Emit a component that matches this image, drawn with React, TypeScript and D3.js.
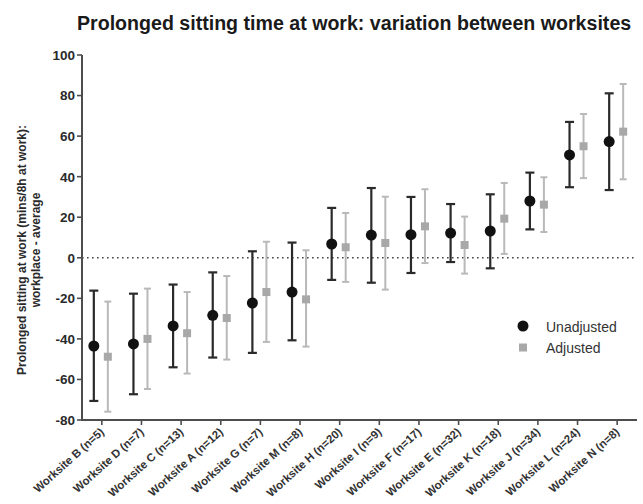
import * as d3 from 'd3';

// worksites, sorted as in the figure
const sites = [
  "Worksite B (n=5)", "Worksite D (n=7)", "Worksite C (n=13)", "Worksite A (n=12)",
  "Worksite G (n=7)", "Worksite M (n=8)", "Worksite H (n=20)", "Worksite I (n=9)",
  "Worksite F (n=17)", "Worksite E (n=32)", "Worksite K (n=18)", "Worksite J (n=34)",
  "Worksite L (n=24)", "Worksite N (n=8)",
];

const unadjMean = [-43.5, -42.5, -33.6, -28.4, -22.3, -16.9, 6.8, 11.2, 11.4, 12.2, 13.2, 28.0, 50.7, 57.3];
const unadjLow = [-70.6, -67.3, -54.0, -49.2, -46.9, -40.7, -10.9, -12.3, -7.5, -2.1, -5.2, 14.0, 34.8, 33.4];
const unadjHigh = [-16.2, -17.7, -13.2, -7.2, 3.2, 7.5, 24.6, 34.4, 30.0, 26.5, 31.3, 42.0, 67.0, 81.1];

const adjMean = [-48.8, -40.0, -37.2, -29.7, -16.9, -20.5, 5.2, 7.3, 15.5, 6.3, 19.3, 26.2, 55.0, 62.2];
const adjLow = [-75.9, -64.7, -57.1, -50.2, -41.5, -43.8, -11.9, -15.7, -2.6, -7.8, 1.9, 12.7, 39.3, 38.7];
const adjHigh = [-21.6, -15.2, -16.9, -9.0, 7.9, 3.7, 22.1, 30.1, 33.8, 20.3, 36.9, 39.7, 70.9, 85.7];

const yTicks = [-80, -60, -40, -20, 0, 20, 40, 60, 80, 100];

const width = 643;
const height = 504;
const marginLeft = 82;
const marginRight = 6;
const marginTop = 55;
const marginBottom = 84;

const font = "'Liberation Sans', Arial, sans-serif";

export default function App() {
  const x = d3.scaleLinear([-0.5, sites.length - 0.5], [marginLeft, width - marginRight]);
  const y = d3.scaleLinear([-80, 100], [height - marginBottom, marginTop]);

  const axisColor = "#4d4d4d";
  const darkBar = "#2a2a2a";
  const lightBar = "#b9b9b9";

  return (
    <svg width={width} height={height} style={{ position: 'absolute', left: 0, top: 0 }} fontFamily={font}>
      <rect width={width} height={height} fill="#fff" />

      {/* title */}
      <text x={77} y={30} fontSize={19.6} fontWeight="bold" fill="#1a1a1a">
        Prolonged sitting time at work: variation between worksites
      </text>

      {/* y label */}
      <g transform={`translate(26,250) rotate(-90)`} fontSize={12} fontWeight="bold" fill="#2a2a2a" textAnchor="middle">
        <text x={0} y={0}>Prolonged sitting at work (mins/8h at work):</text>
        <text x={0} y={14}>workplace - average</text>
      </g>

      {/* zero reference */}
      <line x1={marginLeft} x2={width - marginRight} y1={y(0)} y2={y(0)}
        stroke="#444" strokeWidth={1.6} strokeDasharray="1.6,3.4" />

      {/* y axis */}
      <line x1={marginLeft} x2={marginLeft} y1={y(100)} y2={y(-80) + 1} stroke={axisColor} strokeWidth={2} />
      {yTicks.map(t => (
        <g key={t} transform={`translate(0,${y(t)})`}>
          <line x1={marginLeft - 5} x2={marginLeft} stroke={axisColor} strokeWidth={1.6} />
          <text x={marginLeft - 7} dy="0.36em" textAnchor="end" fontSize={13.5} fontWeight="bold" fill="#2a2a2a">{t}</text>
        </g>
      ))}

      {/* x axis */}
      <line x1={marginLeft - 1} x2={width - marginRight} y1={y(-80)} y2={y(-80)} stroke={axisColor} strokeWidth={2} />
      {sites.map((s, i) => (
        <g key={s}>
          <line x1={x(i)} x2={x(i)} y1={y(-80)} y2={y(-80) + 5} stroke={axisColor} strokeWidth={1.6} />
          <text transform={`translate(${x(i) + 3},${y(-80) + 13}) rotate(-42)`} textAnchor="end"
            fontSize={11.4} fontWeight="bold" fill="#333">{s}</text>
        </g>
      ))}

      {/* unadjusted */}
      {sites.map((s, i) => {
        const cx = x(i) - 8;
        return (
          <g key={"u" + s} stroke={darkBar} strokeWidth={2.2}>
            <line x1={cx} x2={cx} y1={y(unadjLow[i])} y2={y(unadjHigh[i])} />
            <line x1={cx - 4.5} x2={cx + 4.5} y1={y(unadjLow[i])} y2={y(unadjLow[i])} />
            <line x1={cx - 4.5} x2={cx + 4.5} y1={y(unadjHigh[i])} y2={y(unadjHigh[i])} />
            <circle cx={cx} cy={y(unadjMean[i])} r={5.5} fill="#111" stroke="none" />
          </g>
        );
      })}

      {/* adjusted */}
      {sites.map((s, i) => {
        const cx = x(i) + 6;
        return (
          <g key={"a" + s} stroke={lightBar} strokeWidth={2}>
            <line x1={cx} x2={cx} y1={y(adjLow[i])} y2={y(adjHigh[i])} />
            <line x1={cx - 3.5} x2={cx + 3.5} y1={y(adjLow[i])} y2={y(adjLow[i])} />
            <line x1={cx - 3.5} x2={cx + 3.5} y1={y(adjHigh[i])} y2={y(adjHigh[i])} />
            <rect x={cx - 4} y={y(adjMean[i]) - 4} width={8} height={8} fill="#a8a8a8" stroke="none" />
          </g>
        );
      })}

      {/* legend */}
      <g fontSize={14} fill="#333">
        <circle cx={523} cy={326} r={5.5} fill="#111" />
        <text x={546} y={331.5}>Unadjusted</text>
        <rect x={519} y={343.5} width={8} height={8} fill="#a8a8a8" />
        <text x={546} y={352.5}>Adjusted</text>
      </g>
    </svg>
  );
}
